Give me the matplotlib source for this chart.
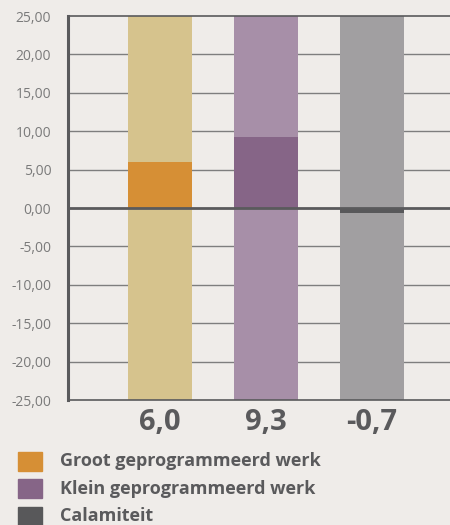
import matplotlib.pyplot as plt
from matplotlib.patches import Rectangle
from matplotlib.ticker import FuncFormatter

categories = ["Groot geprogrammeerd werk", "Klein geprogrammeerd werk", "Calamiteit"]
values = [6.0, 9.3, -0.7]
value_labels = ["6,0", "9,3", "-0,7"]
y_ticks = [-25, -20, -15, -10, -5, 0, 5, 10, 15, 20, 25]

bar_colors = ["#D68F35", "#866587", "#58585A"]
bg_colors = ["#D6C38D", "#A78FA8", "#A19FA1"]
bg = "#EFECE9"
dark = "#5A5A5C"

plt.rcParams['font.family'] = ['Open Sans', 'DejaVu Sans']

fig = plt.figure(figsize=(4.5, 5.25), dpi=100, facecolor=bg)
ax = fig.add_axes([68 / 450, 1 - 400 / 525, 1 - 68 / 450, 384 / 525])
ax.set_facecolor(bg)

x = list(range(len(values)))
ax.bar(x, [50] * 3, bottom=-25, width=0.604, color=bg_colors, zorder=2)
ax.bar(x, values, width=0.604, color=bar_colors, zorder=3)

ax.set_ylim(-25, 25)
ax.set_xlim(-0.868, 2.736)
ax.set_yticks(y_ticks)
ax.yaxis.set_major_formatter(FuncFormatter(lambda v, p: f"{v:.2f}".replace(".", ",")))
ax.tick_params(axis='y', length=0, pad=12, labelsize=10, labelcolor="#7A7A7A")
ax.set_xticks([])

# value labels under the bars
for xi, lab in zip(x, value_labels):
    ax.text(xi, -30 / 384, lab, transform=ax.get_xaxis_transform(),
            ha='center', va='baseline', fontsize=21, fontweight='bold', color=dark)

for t in y_ticks:
    if t == 0:
        ax.axhline(0, color=dark, lw=2, zorder=4)
    elif abs(t) != 25:
        ax.axhline(t, color="#7E7E7E", lw=1, zorder=1)

ax.spines["right"].set_visible(False)
ax.spines["left"].set_linewidth(2.2)
ax.spines["left"].set_color(dark)
ax.spines["top"].set_color(dark)
ax.spines["top"].set_linewidth(1.2)
ax.spines["bottom"].set_color(dark)
ax.spines["bottom"].set_linewidth(1.2)
for s in ax.spines.values():
    s.set_zorder(5)

# legend
rows_y = [461.5, 488.5, 516]
for cat, col, yc in zip(categories, bar_colors, rows_y):
    fig.add_artist(Rectangle((18 / 450, 1 - (yc + 9.5) / 525), 24 / 450, 19 / 525,
                             transform=fig.transFigure, color=col))
    fig.text(60 / 450, 1 - yc / 525, cat, fontsize=13, fontweight='bold',
             color=dark, va='center', ha='left')

fig.savefig("out.png", dpi=100, facecolor=bg)
